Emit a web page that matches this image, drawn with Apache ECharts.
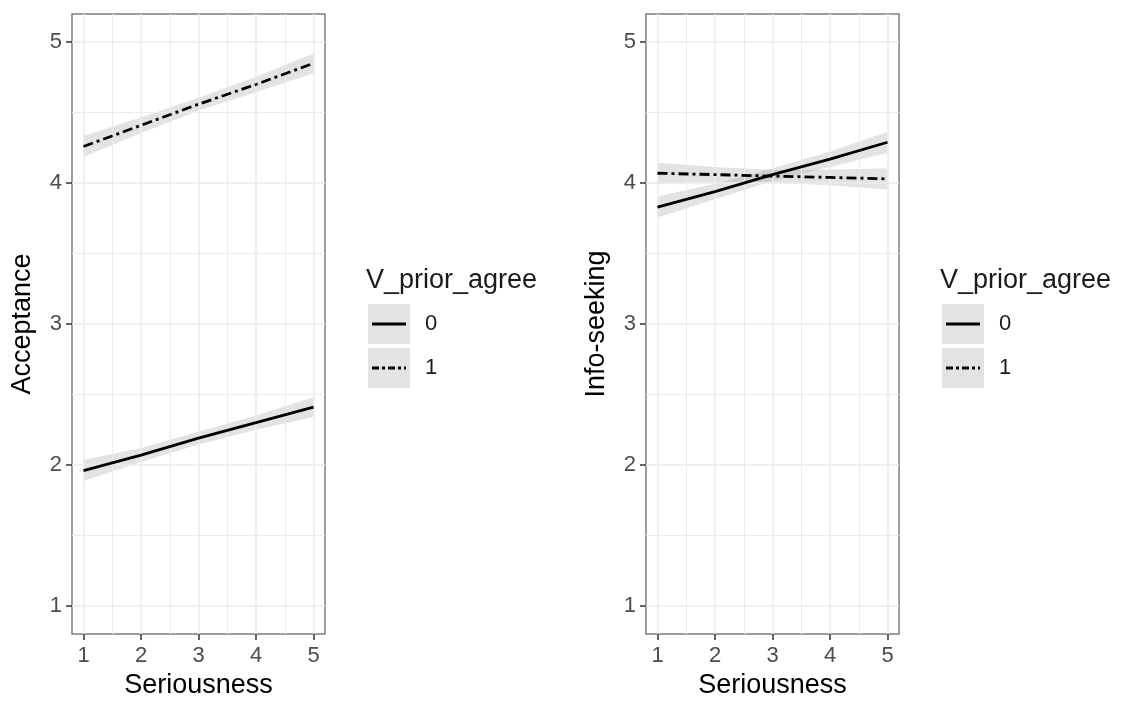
<!DOCTYPE html>
<html>
<head>
<meta charset="utf-8">
<script src="https://cdn.jsdelivr.net/npm/echarts@6/dist/echarts.min.js"></script>
<style>
  html, body { margin: 0; padding: 0; background: #fff; }
  #main { width: 1122px; height: 704px; }
</style>
</head>
<body>
<div id="main"></div>
<script>
// data
var seriousness = [1, 2, 3, 4, 5];
var tickValues = [1, 2, 3, 4, 5];
var minorValues = [1.5, 2.5, 3.5, 4.5];
var groups = ['0', '1'];

var accept0   = [1.96, 2.07, 2.19, 2.30, 2.41];
var accept0Lo = [1.885, 2.02, 2.145, 2.25, 2.34];
var accept0Hi = [2.035, 2.12, 2.235, 2.35, 2.48];
var accept1   = [4.26, 4.41, 4.56, 4.70, 4.85];
var accept1Lo = [4.185, 4.355, 4.515, 4.645, 4.78];
var accept1Hi = [4.335, 4.465, 4.605, 4.755, 4.92];

var info0   = [3.83, 3.94, 4.06, 4.17, 4.29];
var info0Lo = [3.755, 3.885, 4.015, 4.115, 4.215];
var info0Hi = [3.905, 3.995, 4.105, 4.225, 4.365];
var info1   = [4.07, 4.06, 4.05, 4.04, 4.03];
var info1Lo = [3.995, 4.005, 4.005, 3.985, 3.955];
var info1Hi = [4.145, 4.115, 4.095, 4.095, 4.105];

var FONT = '"Liberation Sans", Arial, Helvetica, sans-serif';
var dashDot = [10, 4, 3, 4];

function pairs(ys) {
  return seriousness.map(function (x, i) { return [x, ys[i]]; });
}

function keyIcon(dashed) {
  var svg = '<svg xmlns="http://www.w3.org/2000/svg" width="42" height="40">' +
    '<rect width="42" height="40" fill="#e3e3e3"/>' +
    '<line x1="4" y1="20" x2="38" y2="20" stroke="#000" stroke-width="2.8"' +
    (dashed ? ' stroke-dasharray="7,3,3,3"' : '') + '/></svg>';
  return 'image://data:image/svg+xml;charset=utf-8,' + encodeURIComponent(svg);
}

function gridLines() {
  var d = [];
  tickValues.forEach(function (v) {
    d.push({ xAxis: v, lineStyle: { width: 1.6 } });
    d.push({ yAxis: v, lineStyle: { width: 1.6 } });
  });
  minorValues.forEach(function (v) {
    d.push({ xAxis: v, lineStyle: { width: 1 } });
    d.push({ yAxis: v, lineStyle: { width: 1 } });
  });
  return d;
}

// confidence band: one polygon through api.coord
function ribbon(idx, name, lo, hi) {
  return {
    name: name, type: 'custom', xAxisIndex: idx, yAxisIndex: idx, silent: true, z: 2,
    clip: true,
    data: seriousness.map(function (x, i) { return [x, lo[i], hi[i]]; }),
    encode: { x: 0, y: [1, 2] },
    renderItem: function (params, api) {
      if (params.dataIndex !== 0) return;
      var pts = [];
      for (var i = 0; i < seriousness.length; i++) pts.push(api.coord([seriousness[i], hi[i]]));
      for (var j = seriousness.length - 1; j >= 0; j--) pts.push(api.coord([seriousness[j], lo[j]]));
      return { type: 'polygon', shape: { points: pts }, style: { fill: 'rgba(153,153,153,0.28)' } };
    }
  };
}

function panelSeries(idx, y0, lo0, hi0, y1, lo1, hi1) {
  var base = { xAxisIndex: idx, yAxisIndex: idx, showSymbol: false, silent: true };
  return [
    Object.assign({}, base, {
      name: 'grid' + idx, type: 'line', data: [], z: 1,
      markLine: {
        silent: true, symbol: 'none', label: { show: false },
        lineStyle: { color: '#ebebeb', type: 'solid' },
        data: gridLines()
      }
    }),
    ribbon(idx, groups[0], lo0, hi0),
    ribbon(idx, groups[1], lo1, hi1),
    Object.assign({}, base, {
      name: groups[0], type: 'line', data: pairs(y0), z: 5,
      lineStyle: { color: '#000', width: 2.8 }
    }),
    Object.assign({}, base, {
      name: groups[1], type: 'line', data: pairs(y1), z: 5,
      lineStyle: { color: '#000', width: 2.8, type: dashDot }
    })
  ];
}

function xAxisOf(idx) {
  return {
    gridIndex: idx, type: 'value', min: 0.8, max: 5.2,
    name: 'Seriousness', nameLocation: 'middle', nameGap: 38,
    nameTextStyle: { fontFamily: FONT, fontSize: 27, color: '#000' },
    axisLine: { show: false },
    axisTick: { show: true, length: 6, customValues: tickValues, lineStyle: { color: '#333', width: 1.5 } },
    axisLabel: { customValues: tickValues, margin: 11, fontFamily: FONT, fontSize: 22, color: '#4d4d4d' },
    splitLine: { show: false }
  };
}
function yAxisOf(idx, title) {
  return {
    gridIndex: idx, type: 'value', min: 0.8, max: 5.2,
    name: title, nameLocation: 'middle', nameGap: 36,
    nameTextStyle: { fontFamily: FONT, fontSize: 27, color: '#000' },
    axisLine: { show: false },
    axisTick: { show: true, length: 6, customValues: tickValues, lineStyle: { color: '#333', width: 1.5 } },
    axisLabel: { customValues: tickValues, margin: 10, fontFamily: FONT, fontSize: 22, color: '#4d4d4d' },
    splitLine: { show: false }
  };
}
function legendOf(left) {
  return {
    orient: 'vertical', left: left, top: 304, padding: 0,
    itemWidth: 42, itemHeight: 40, itemGap: 4, selectedMode: false,
    textStyle: { fontFamily: FONT, fontSize: 22, color: '#1a1a1a', padding: [0, 0, 0, 10] },
    data: [
      { name: groups[0], icon: keyIcon(false) },
      { name: groups[1], icon: keyIcon(true) }
    ]
  };
}

var chart = echarts.init(document.getElementById('main'));
var option = {
  backgroundColor: '#fff',
  animation: false,
  grid: [
    { left: 72, top: 14, width: 253, height: 624, show: true, borderColor: '#7f7f7f', borderWidth: 1.5, backgroundColor: 'transparent' },
    { left: 646, top: 14, width: 253, height: 624, show: true, borderColor: '#7f7f7f', borderWidth: 1.5, backgroundColor: 'transparent' }
  ],
  xAxis: [xAxisOf(0), xAxisOf(1)],
  yAxis: [yAxisOf(0, 'Acceptance'), yAxisOf(1, 'Info-seeking')],
  legend: [legendOf(368), legendOf(942)],
  graphic: [
    { type: 'text', left: 366, top: 267, style: { text: 'V_prior_agree', font: '27px ' + FONT, fill: '#1a1a1a' } },
    { type: 'text', left: 940, top: 267, style: { text: 'V_prior_agree', font: '27px ' + FONT, fill: '#1a1a1a' } }
  ],
  series: panelSeries(0, accept0, accept0Lo, accept0Hi, accept1, accept1Lo, accept1Hi)
    .concat(panelSeries(1, info0, info0Lo, info0Hi, info1, info1Lo, info1Hi))
};
chart.setOption(option);
</script>
</body>
</html>
